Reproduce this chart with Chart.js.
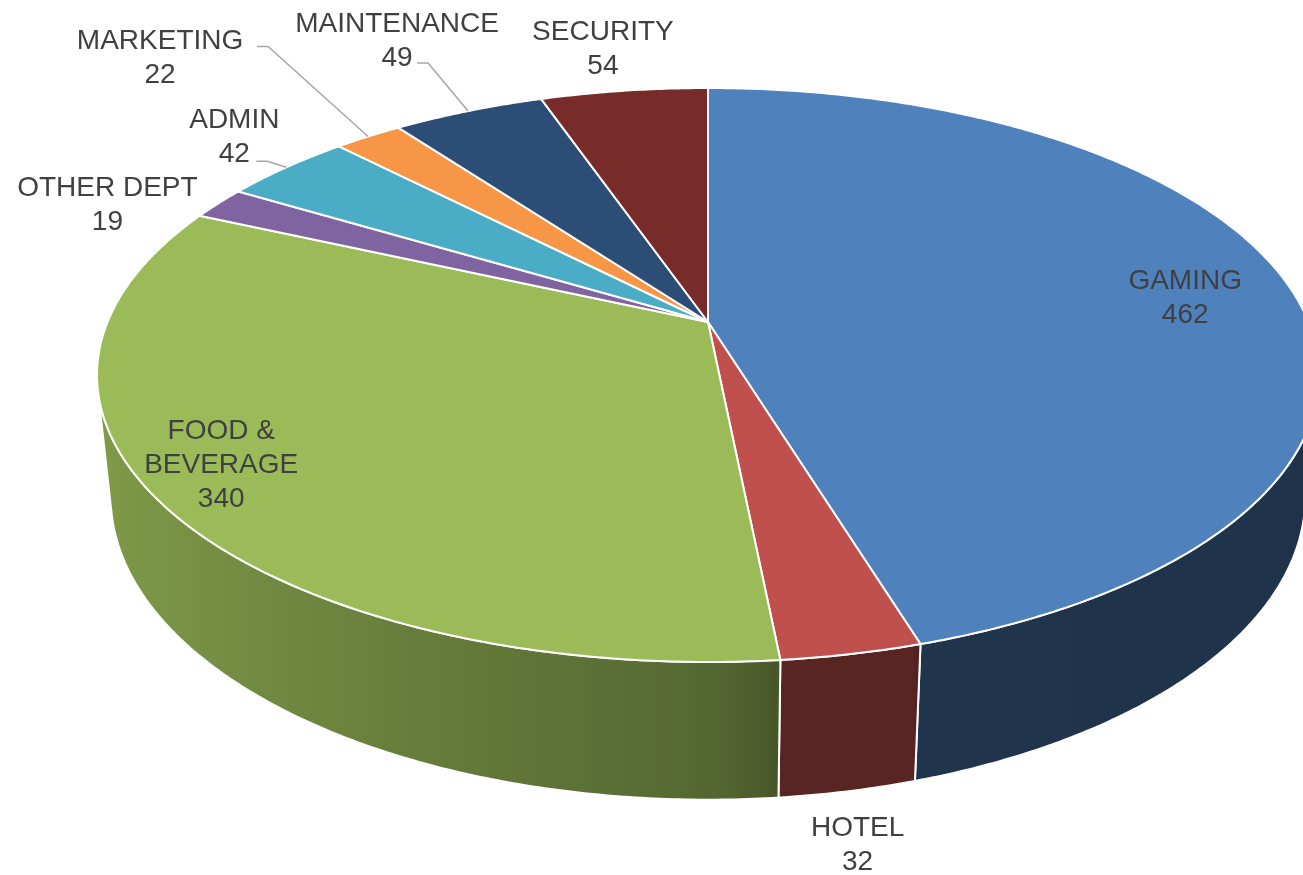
<!DOCTYPE html>
<html>
<head>
<meta charset="utf-8">
<title>Headcount by Department</title>
<script src="https://cdn.jsdelivr.net/npm/chart.js@4.4.0/dist/chart.umd.min.js"></script>
<style>
  html, body { margin: 0; padding: 0; background: #fff; }
  canvas { display: block; }
</style>
</head>
<body>
<canvas id="deptPie" width="1303" height="875"></canvas>
<script>
const departments = ["GAMING", "HOTEL", "FOOD & BEVERAGE", "OTHER DEPT", "ADMIN", "MARKETING", "MAINTENANCE", "SECURITY"];
const headcount = [462, 32, 340, 19, 42, 22, 49, 54];
const sliceColors = ["#4f81bd", "#c0504d", "#9bbb59", "#8064a2", "#4bacc6", "#f79646", "#2c4d75", "#772c2a"];

// where each label sits, relative to the rim point at the slice's middle angle
const labelLayout = [
  { dx: -101, dy: 14 },
  { dx: 6, dy: 189 },
  { dx: 60, dy: -40, wrap: 140 },
  { dx: -111, dy: 0 },
  { dx: -52, dy: -32, leader: [22, 26] },
  { dx: -208, dy: -81, leader: [97, -9] },
  { dx: -71, dy: -72, leader: [20, 24] },
  { dx: -21, dy: -44 }
];

// simple perspective camera for the tilted pie
const view = { cx: 708, cy: 322, f: 2884, dist: 4.803, tilt: Math.asin(277.2 / 600.5), depth: 0.2307 };
const sinT = Math.sin(view.tilt), cosT = Math.cos(view.tilt);

function project(theta, r, z) {
  const X = r * Math.sin(theta), Y = r * Math.cos(theta);
  const yc = Y * sinT + z * cosT;
  const zc = view.dist + Y * cosT - z * sinT;
  return { x: view.cx + view.f * X / zc, y: view.cy - view.f * yc / zc };
}

// outer wall faces the camera only in this angle range
const wallFrom = Math.acos(-1 / (view.dist * cosT));
const wallTo = 2 * Math.PI - wallFrom;

// light comes from the left: darker towards the right of the wall
function wallShade(theta) {
  const deg = theta * 180 / Math.PI;
  const s = Math.sin(theta);
  if (deg < 163.5) return 0.39 + 0.02 * (0.97 - s);
  if (deg < 175) return 0.46;
  return 0.53 + 0.30 * (0.08 - s) / 1.05;
}

function shadeColor(hex, k) {
  const n = parseInt(hex.slice(1), 16);
  const r = Math.round(((n >> 16) & 255) * k), g = Math.round(((n >> 8) & 255) * k), b = Math.round((n & 255) * k);
  return `rgb(${r}, ${g}, ${b})`;
}

const toTheta = a => a + Math.PI / 2;
const STEP = Math.PI / 360;

function rimPath(ctx, from, to, z, first) {
  const n = Math.max(2, Math.ceil(Math.abs(to - from) / STEP));
  for (let k = 0; k <= n; k++) {
    const p = project(from + (to - from) * k / n, 1, z);
    if (first && k === 0) ctx.moveTo(p.x, p.y); else ctx.lineTo(p.x, p.y);
  }
}

function wrapLabel(ctx, text, maxWidth) {
  if (!maxWidth) return [text];
  const lines = [];
  let line = "";
  text.split(" ").forEach(w => {
    const test = line ? line + " " + w : w;
    if (line && ctx.measureText(test).width > maxWidth) { lines.push(line); line = w; }
    else line = test;
  });
  lines.push(line);
  return lines;
}

const pie3d = {
  id: "pie3d",
  beforeDatasetsDraw(chart) {
    const ctx = chart.ctx;
    const arcs = chart.getDatasetMeta(0).data;
    const colors = chart.data.datasets[0].backgroundColor;
    ctx.save();
    ctx.lineJoin = "round";
    ctx.strokeStyle = "#ffffff";
    ctx.lineWidth = 2;

    // side walls
    arcs.forEach((arc, i) => {
      const a0 = Math.max(toTheta(arc.startAngle), wallFrom);
      const a1 = Math.min(toTheta(arc.endAngle), wallTo);
      if (a1 <= a0) return;
      const xs = [];
      for (let k = 0; k <= 16; k++) {
        const th = a0 + (a1 - a0) * k / 16;
        xs.push({ x: project(th, 1, 0).x, th });
      }
      const xMin = Math.min(...xs.map(s => s.x)), xMax = Math.max(...xs.map(s => s.x));
      const grad = ctx.createLinearGradient(xMin, 0, xMax, 0);
      xs.forEach(s => grad.addColorStop((s.x - xMin) / (xMax - xMin || 1), shadeColor(colors[i], wallShade(s.th))));
      ctx.beginPath();
      rimPath(ctx, a0, a1, 0, true);
      rimPath(ctx, a1, a0, -view.depth, false);
      ctx.closePath();
      ctx.fillStyle = grad;
      ctx.fill();
      ctx.stroke();
    });

    // top face
    const c = project(0, 0, 0);
    arcs.forEach((arc, i) => {
      ctx.beginPath();
      ctx.moveTo(c.x, c.y);
      rimPath(ctx, toTheta(arc.startAngle), toTheta(arc.endAngle), 0, false);
      ctx.closePath();
      ctx.fillStyle = colors[i];
      ctx.fill();
      ctx.stroke();
    });
    ctx.restore();
    return false;
  },
  afterDraw(chart) {
    const ctx = chart.ctx;
    const arcs = chart.getDatasetMeta(0).data;
    const lineH = 34;
    ctx.save();
    ctx.font = '28px "Liberation Sans", Arial, sans-serif';
    ctx.textAlign = "center";
    ctx.textBaseline = "alphabetic";
    arcs.forEach((arc, i) => {
      const mid = toTheta((arc.startAngle + arc.endAngle) / 2);
      const anchor = project(mid, 1, 0);
      const lay = labelLayout[i];
      const bx = anchor.x + lay.dx, by = anchor.y + lay.dy;
      const lines = wrapLabel(ctx, chart.data.labels[i], lay.wrap).concat(String(chart.data.datasets[0].data[i]));
      if (lay.leader) {
        const sx = bx + lay.leader[0], sy = by + lay.leader[1];
        ctx.beginPath();
        ctx.moveTo(sx, sy);
        ctx.lineTo(sx + 11, sy);
        ctx.lineTo(anchor.x, anchor.y);
        ctx.strokeStyle = "#a6a6a6";
        ctx.lineWidth = 1.5;
        ctx.stroke();
      }
      ctx.fillStyle = "#404040";
      lines.forEach((t, k) => {
        const cy = by - (lines.length - 1) * lineH / 2 + k * lineH;
        ctx.fillText(t, bx, cy + 10);
      });
    });
    ctx.restore();
  }
};

const ctx = document.getElementById("deptPie").getContext("2d");
const chart = new Chart(ctx, {
  type: "pie",
  data: {
    labels: departments,
    datasets: [{
      data: headcount,
      backgroundColor: sliceColors,
      borderColor: "#ffffff",
      borderWidth: 2
    }]
  },
  options: {
    responsive: false,
    animation: false,
    devicePixelRatio: 1,
    plugins: {
      legend: { display: false },
      tooltip: { enabled: false }
    }
  },
  plugins: [pie3d]
});
</script>
</body>
</html>
